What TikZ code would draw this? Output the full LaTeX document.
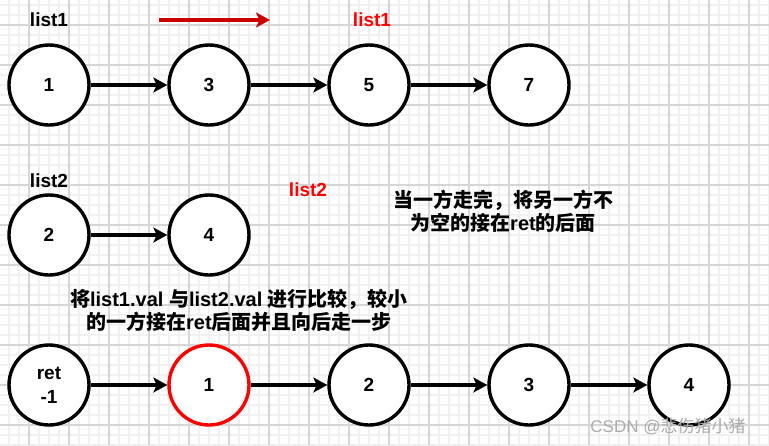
\documentclass[tikz,border=0pt]{standalone}
\usepackage{fontspec}
\setmainfont{Liberation Sans}
\newfontfamily\cjk{Noto Sans CJK SC}
\usetikzlibrary{arrows.meta,positioning}
\definecolor{gridmajor}{HTML}{D6D6D6}
\definecolor{gridminor}{HTML}{F1F1F1}
\definecolor{hired}{HTML}{FF0000}
\definecolor{arrred}{HTML}{CC0000}
\definecolor{wmgray}{HTML}{ABABAB}

\begin{document}
\begin{tikzpicture}[
    x=1pt, y=-1pt,
    node distance=76.6pt,
    every node/.style={font=\fontsize{19}{24}\selectfont\bfseries, align=center},
    cnode/.style={circle, draw=#1, line width=3.4pt, minimum size=80pt,
                  inner sep=0pt, outer sep=1.7pt, fill=white},
    cnode/.default=black,
    arr/.style={-{Stealth[length=14pt,width=15pt,inset=3.5pt]}, line width=3.4pt},
    redarr/.style={-{Stealth[length=14pt,width=15pt,inset=3.5pt]}, line width=3.2pt, arrred},
    txt/.style={inner sep=0pt},
    note/.style={inner sep=0pt, font=\fontsize{20}{23}\selectfont\bfseries},
    wm/.style={inner sep=0pt, text=wmgray, font=\fontsize{17}{20}\selectfont\mdseries},
    gridline/.style={draw=#1, line width=1.2pt},
  ]
  \useasboundingbox (0,0) rectangle (769,445);
  \fill[white] (0,0) rectangle (769,445);

  % background grid
  \foreach \gx in {9,19,...,769} {\path[gridline=gridminor] (\gx,0) -- (\gx,445);}
  \foreach \gy in {5,15,...,445} {\path[gridline=gridminor] (0,\gy) -- (769,\gy);}
  \foreach \gx in {29,69,...,749} {\path[gridline=gridmajor] (\gx,0) -- (\gx,445);}
  \foreach \gy in {25,65,...,425} {\path[gridline=gridmajor] (0,\gy) -- (769,\gy);}

  % list1
  \node[cnode] (a1) at (49,85) {1};
  \node[cnode, right=of a1] (a3) {3};
  \node[cnode, right=of a3] (a5) {5};
  \node[cnode, right=of a5] (a7) {7};
  \node[txt] (lab1) at (49,20) {list1};
  \node[txt, text=hired] (lab1r) at (372,20) {list1};
  \coordinate (mvs) at (159,20);
  \coordinate (mve) at (270,20);
  \draw[redarr] (mvs) -- (mve);

  % list2
  \node[cnode, below=66.6pt of a1] (b2) {2};
  \node[cnode, right=of b2] (b4) {4};
  \node[txt] (lab2) at (49,181) {list2};
  \node[txt, text=hired] (lab2r) at (308,190) {list2};

  % ret
  \node[cnode, below=66.6pt of b2] (r0) {ret\\-1};
  \node[cnode=hired, right=of r0] (r1) {1};
  \node[cnode, right=of r1] (r2) {2};
  \node[cnode, right=of r2] (r3) {3};
  \node[cnode, right=of r3] (r4) {4};

  \draw[arr] (a1) -- (a3);
  \draw[arr] (a3) -- (a5);
  \draw[arr] (a5) -- (a7);
  \draw[arr] (b2) -- (b4);
  \draw[arr] (r0) -- (r1);
  \draw[arr] (r1) -- (r2);
  \draw[arr] (r2) -- (r3);
  \draw[arr] (r3) -- (r4);

  % notes
  \node[note] (cmp) at (239,310) {{\cjk 将}list1.val {\cjk 与}list2.val {\cjk 进行比较，较小}\\{\cjk 的一方接在}ret{\cjk 后面并且向后走一步}};
  \node[note] (rest) at (503,211) {{\cjk 当一方走完，将另一方不}\\{\cjk 为空的接在}ret{\cjk 的后面}};

  \node[wm] (mark) at (668,426) {CSDN @{\cjk 悲伤猪小猪}};
\end{tikzpicture}
\end{document}
